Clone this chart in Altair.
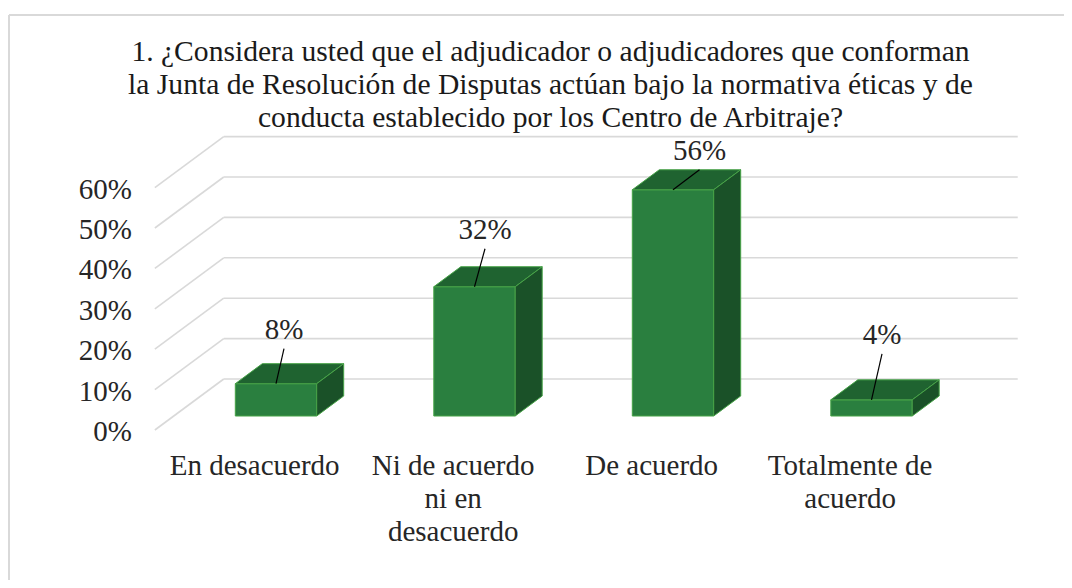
import altair as alt
import pandas as pd

# ---------------- data ----------------
title_lines = [
    "1. ¿Considera usted que el adjudicador o adjudicadores que conforman",
    "la Junta de Resolución de Disputas actúan bajo la normativa éticas y de",
    "conducta establecido por los Centro de Arbitraje?",
]
categories = ["En desacuerdo", "Ni de acuerdo ni en desacuerdo", "De acuerdo", "Totalmente de acuerdo"]
category_labels = ["En desacuerdo", "Ni de acuerdo\nni en\ndesacuerdo", "De acuerdo", "Totalmente de\nacuerdo"]
values = [8, 32, 56, 4]
tick_values = [0, 10, 20, 30, 40, 50, 60]
tick_labels = ["0%", "10%", "20%", "30%", "40%", "50%", "60%"]

# ---------------- layout (pixels / styling) ----------------
W, H = 1056, 572
PX_CAT = 198.5          # pixels per category step
PX_PCT = 4.04           # pixels per percent
X0 = 276 - 8            # pixel of category 0 (front face) inside plot
Y0 = 416 - 8            # pixel of value 0 (front face) inside plot
DX = 27 / PX_CAT        # depth step in category units
DY = 20 / PX_PCT        # depth step in percent units
BAR_HALF = 0.205
D_FLOOR = -0.7
D_BACK = 1.85
D_LABEL = -0.79
C_LEFT, C_RIGHT = -0.515, 3.485
label_dx_px = [8, 10.5, 26.5, 10.5]
label_rise_px = [54, 57, 39, 65]
FONT = "Liberation Serif"
FS = 29

FRONT = "#2a7f3f"
TOP = "#1f6330"
SIDE = "#1a5128"
EDGE = "#47a347"
GRID = "#d9d9d9"

xs = alt.Scale(domain=[-X0 / PX_CAT, (W - X0) / PX_CAT], nice=False, zero=False)
ys = alt.Scale(domain=[(Y0 - H) / PX_PCT, Y0 / PX_PCT], nice=False, zero=False)


def proj(c, v, d):
    return c + d * DX, v + d * DY


def X(f):
    return alt.X(f"{f}:Q", scale=xs, axis=None)


def Y(f):
    return alt.Y(f"{f}:Q", scale=ys, axis=None)


# gridlines: left wall diagonals and back wall horizontals
grid_rows = []
for v in tick_values:
    xa, ya = proj(C_LEFT, v, D_FLOOR)
    xb, yb = proj(C_LEFT, v, D_BACK)
    grid_rows.append(dict(x=xa, y=ya, x2=xb, y2=yb))
    xc, yc = proj(C_RIGHT, v, D_BACK)
    grid_rows.append(dict(x=xb, y=yb, x2=xc, y2=yc))
grid = alt.Chart(pd.DataFrame(grid_rows)).mark_rule(color=GRID, strokeWidth=1.6).encode(
    x=X("x"), y=Y("y"), x2="x2:Q", y2="y2:Q"
)

# front faces
front_df = pd.DataFrame({
    "x": [i - BAR_HALF for i in range(4)],
    "x2": [i + BAR_HALF for i in range(4)],
    "y": [0] * 4,
    "y2": values,
})
front = alt.Chart(front_df).mark_rect(color=FRONT, stroke=EDGE, strokeWidth=1).encode(
    x=X("x"), x2="x2:Q", y=Y("y"), y2="y2:Q"
)

# top faces (horizontal-oriented areas)
top_rows = []
for i, v in enumerate(values):
    for d in (0, 1):
        xl, yy = proj(i - BAR_HALF, v, d)
        xr, _ = proj(i + BAR_HALF, v, d)
        top_rows.append(dict(bar=categories[i], y=yy, x=xl, x2=xr))
top = alt.Chart(pd.DataFrame(top_rows)).mark_area(
    orient="horizontal", color=TOP, stroke=EDGE, strokeWidth=1
).encode(y=Y("y"), x=X("x"), x2="x2:Q", detail="bar:N")

# side faces (vertical-oriented areas)
side_rows = []
for i, v in enumerate(values):
    for d in (0, 1):
        xx, yb = proj(i + BAR_HALF, 0, d)
        _, yt = proj(i + BAR_HALF, v, d)
        side_rows.append(dict(bar=categories[i], x=xx, y=yb, y2=yt))
side = alt.Chart(pd.DataFrame(side_rows)).mark_area(
    orient="vertical", color=SIDE, stroke=EDGE, strokeWidth=1
).encode(x=X("x"), y=Y("y"), y2="y2:Q", detail="bar:N")

# data labels and leader lines
lab_rows = []
for i, v in enumerate(values):
    lx = i + label_dx_px[i] / PX_CAT
    ly = v + label_rise_px[i] / PX_PCT
    lab_rows.append(dict(
        x=lx, y=ly, text=f"{v}%",
        lx1=lx, ly1=ly - 19 / PX_PCT, lx2=i, ly2=v,
    ))
lab_df = pd.DataFrame(lab_rows)
leaders = alt.Chart(lab_df).mark_rule(color="black", strokeWidth=1.2).encode(
    x=X("lx1"), y=Y("ly1"), x2="lx2:Q", y2="ly2:Q"
)
labels = alt.Chart(lab_df).mark_text(
    font=FONT, fontSize=FS, color="#262626", baseline="middle", align="center"
).encode(x=X("x"), y=Y("y"), text="text:N")

# y axis labels
ytick_rows = []
for v, t in zip(tick_values, tick_labels):
    xx, yy = proj(C_LEFT, v, D_FLOOR)
    ytick_rows.append(dict(x=xx, y=yy, text=t))
ylabels = alt.Chart(pd.DataFrame(ytick_rows)).mark_text(
    font=FONT, fontSize=FS, color="#262626", align="right", baseline="middle", dx=-23, dy=2
).encode(x=X("x"), y=Y("y"), text="text:N")

# category labels
cat_rows = []
for i, t in enumerate(category_labels):
    xx, _ = proj(i, 0, D_LABEL)
    cat_rows.append(dict(x=xx, text=t))
xlabels = alt.Chart(pd.DataFrame(cat_rows)).mark_text(
    font=FONT, fontSize=FS, color="#262626", align="center", baseline="alphabetic",
    lineBreak="\n", lineHeight=33
).encode(x=X("x"), y=alt.value(475 - 8), text="text:N")

# title
title = alt.Chart(pd.DataFrame({"t": [0]})).mark_text(
    font=FONT, fontSize=29.6, color="#1a1a1a", align="center", baseline="alphabetic",
    text=title_lines, lineHeight=33.3
).encode(x=alt.value(550.5 - 8), y=alt.value(60.5 - 8))

# chart border
border_top = alt.Chart(pd.DataFrame({"t": [0]})).mark_rule(color=GRID, strokeWidth=2).encode(
    x=alt.value(1), x2=alt.value(W + 8), y=alt.value(7)
)
border_left = alt.Chart(pd.DataFrame({"t": [0]})).mark_rule(color=GRID, strokeWidth=2).encode(
    x=alt.value(1), y=alt.value(7), y2=alt.value(H + 8)
)

chart = alt.layer(
    border_top, border_left, grid, front, top, side, leaders, labels, ylabels, xlabels, title
).properties(
    width=W, height=H, autosize=alt.AutoSizeParams(type="none"), padding=0, background="white"
).configure_view(stroke=None)

chart.save("out.html", embed_options={"renderer": "svg", "actions": False})
